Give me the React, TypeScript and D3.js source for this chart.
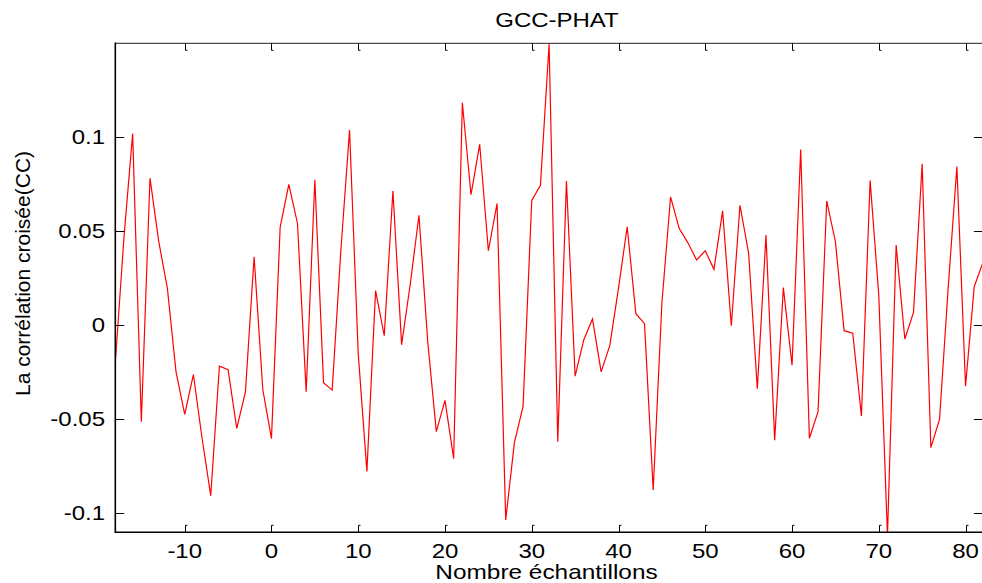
import React from "react";
import * as d3 from "d3";

// GCC-PHAT cross-correlation, one value per lag sample
const lags: number[] = d3.range(-18, 83);
const corr: number[] = [
  -0.02, 0.047, 0.102, -0.0512, 0.0783, 0.0448, 0.0198, -0.0247, -0.0473, -0.0261,
  -0.06, -0.0905, -0.0217, -0.0235, -0.0547, -0.0353, 0.0365, -0.0341, -0.0602, 0.0521,
  0.075, 0.0542, -0.0353, 0.0775, -0.0305, -0.0344, 0.04, 0.1039, -0.015, -0.0776,
  0.0185, -0.0055, 0.0715, -0.0102, 0.022, 0.0586, -0.008, -0.0565, -0.0399, -0.0708,
  0.1184, 0.0695, 0.0963, 0.0397, 0.0648, -0.1034, -0.0623, -0.0429, 0.0665, 0.0745,
  0.1496, -0.0618, 0.0768, -0.027, -0.0076, 0.0034, -0.0247, -0.0106, 0.0198, 0.0524,
  0.0062, 0.0009, -0.0875, 0.0118, 0.0683, 0.0515, 0.0439, 0.0348, 0.0397, 0.0298,
  0.0609, -0.0002, 0.0639, 0.0383, -0.0337, 0.048, -0.0611, 0.0201, -0.0212, 0.0935,
  -0.06, -0.0459, 0.0662, 0.0445, -0.0028, -0.0041, -0.0482, 0.0771, 0.016, -0.112,
  0.0427, -0.0072, 0.0069, 0.0859, -0.065, -0.05, 0.02, 0.0845, -0.0323, 0.0206,
  0.0334,
];
const xTicks: number[] = [-10, 0, 10, 20, 30, 40, 50, 60, 70, 80];
const yTicks: number[] = [-0.1, -0.05, 0, 0.05, 0.1];

const titleText = "GCC-PHAT";
const xLabel = "Nombre échantillons";
const yLabel = "La corrélation croisée(CC)";

const W = 982;
const H = 583;
const left = 115.3;
const right = 982.9;
const top = 43.3;
const bottom = 532.3;
const FONT = "'Liberation Sans', Arial, sans-serif";

export default function App() {
  const x = d3.scaleLinear().domain([-18, 82]).range([left, right]);
  const y = d3.scaleLinear().domain([-0.11, 0.15]).range([bottom, top]);

  const points: [number, number][] = lags.map((l, i) => [l, corr[i]]);
  const line = d3
    .line<[number, number]>()
    .x((d) => x(d[0]))
    .y((d) => y(d[1]));

  return (
    <svg
      width={W}
      height={H}
      style={{ position: "absolute", left: 0, top: 0, background: "#fff" }}
      fontFamily={FONT}
    >
      <defs>
        <clipPath id="plot-clip">
          <rect x={left} y={top} width={right - left} height={bottom - top} />
        </clipPath>
      </defs>

      {/* title */}
      <text
        transform={`translate(557,27) scale(1.2,1)`}
        textAnchor="middle"
        fontSize={20}
        fill="#000"
      >
        {titleText}
      </text>

      {/* data line */}
      <path
        d={line(points) ?? ""}
        fill="none"
        stroke="#ff0000"
        strokeWidth={1.2}
        clipPath="url(#plot-clip)"
      />

      {/* axes box */}
      <line x1={left} x2={right} y1={top} y2={top} stroke="#222" strokeWidth={1} />
      <line x1={left} x2={right} y1={bottom} y2={bottom} stroke="#000" strokeWidth={1.5} />
      <line x1={left} x2={left} y1={top - 0.7} y2={bottom + 0.7} stroke="#000" strokeWidth={1.6} />
      <line x1={right} x2={right} y1={top} y2={bottom} stroke="#000" strokeWidth={1.5} />

      {/* x ticks (bottom and top) with labels */}
      {xTicks.map((t) => {
        const px = Math.round(x(t)) + 0.5;
        return (
          <g key={`x${t}`}>
            <path d={`M${px},${bottom} V${bottom - 7} h2`} fill="none" stroke="#000" strokeWidth={1} />
            <path d={`M${px},${top} V${top + 7} h2`} fill="none" stroke="#000" strokeWidth={1} />
            <text
              transform={`translate(${x(t)},558) scale(1.2,1)`}
              textAnchor="middle"
              fontSize={20}
              fill="#000"
            >
              {String(t)}
            </text>
          </g>
        );
      })}

      {/* y ticks (left and right) with labels */}
      {yTicks.map((t) => {
        const py = Math.round(y(t)) + 0.5;
        return (
          <g key={`y${t}`}>
            <line x1={left} x2={left + 9} y1={py} y2={py} stroke="#000" strokeWidth={1} />
            <line x1={right} x2={right - 9} y1={py} y2={py} stroke="#000" strokeWidth={1} />
            <text
              transform={`translate(105,${y(t) + 7}) scale(1.2,1)`}
              textAnchor="end"
              fontSize={20}
              fill="#000"
            >
              {String(t)}
            </text>
          </g>
        );
      })}

      {/* axis labels */}
      <text
        transform={`translate(546.5,579) scale(1.22,1)`}
        textAnchor="middle"
        fontSize={20}
        fill="#000"
      >
        {xLabel}
      </text>
      <text
        transform={`translate(30,273.5) rotate(-90)`}
        textAnchor="middle"
        fontSize={21}
        fill="#000"
      >
        {yLabel}
      </text>
    </svg>
  );
}
